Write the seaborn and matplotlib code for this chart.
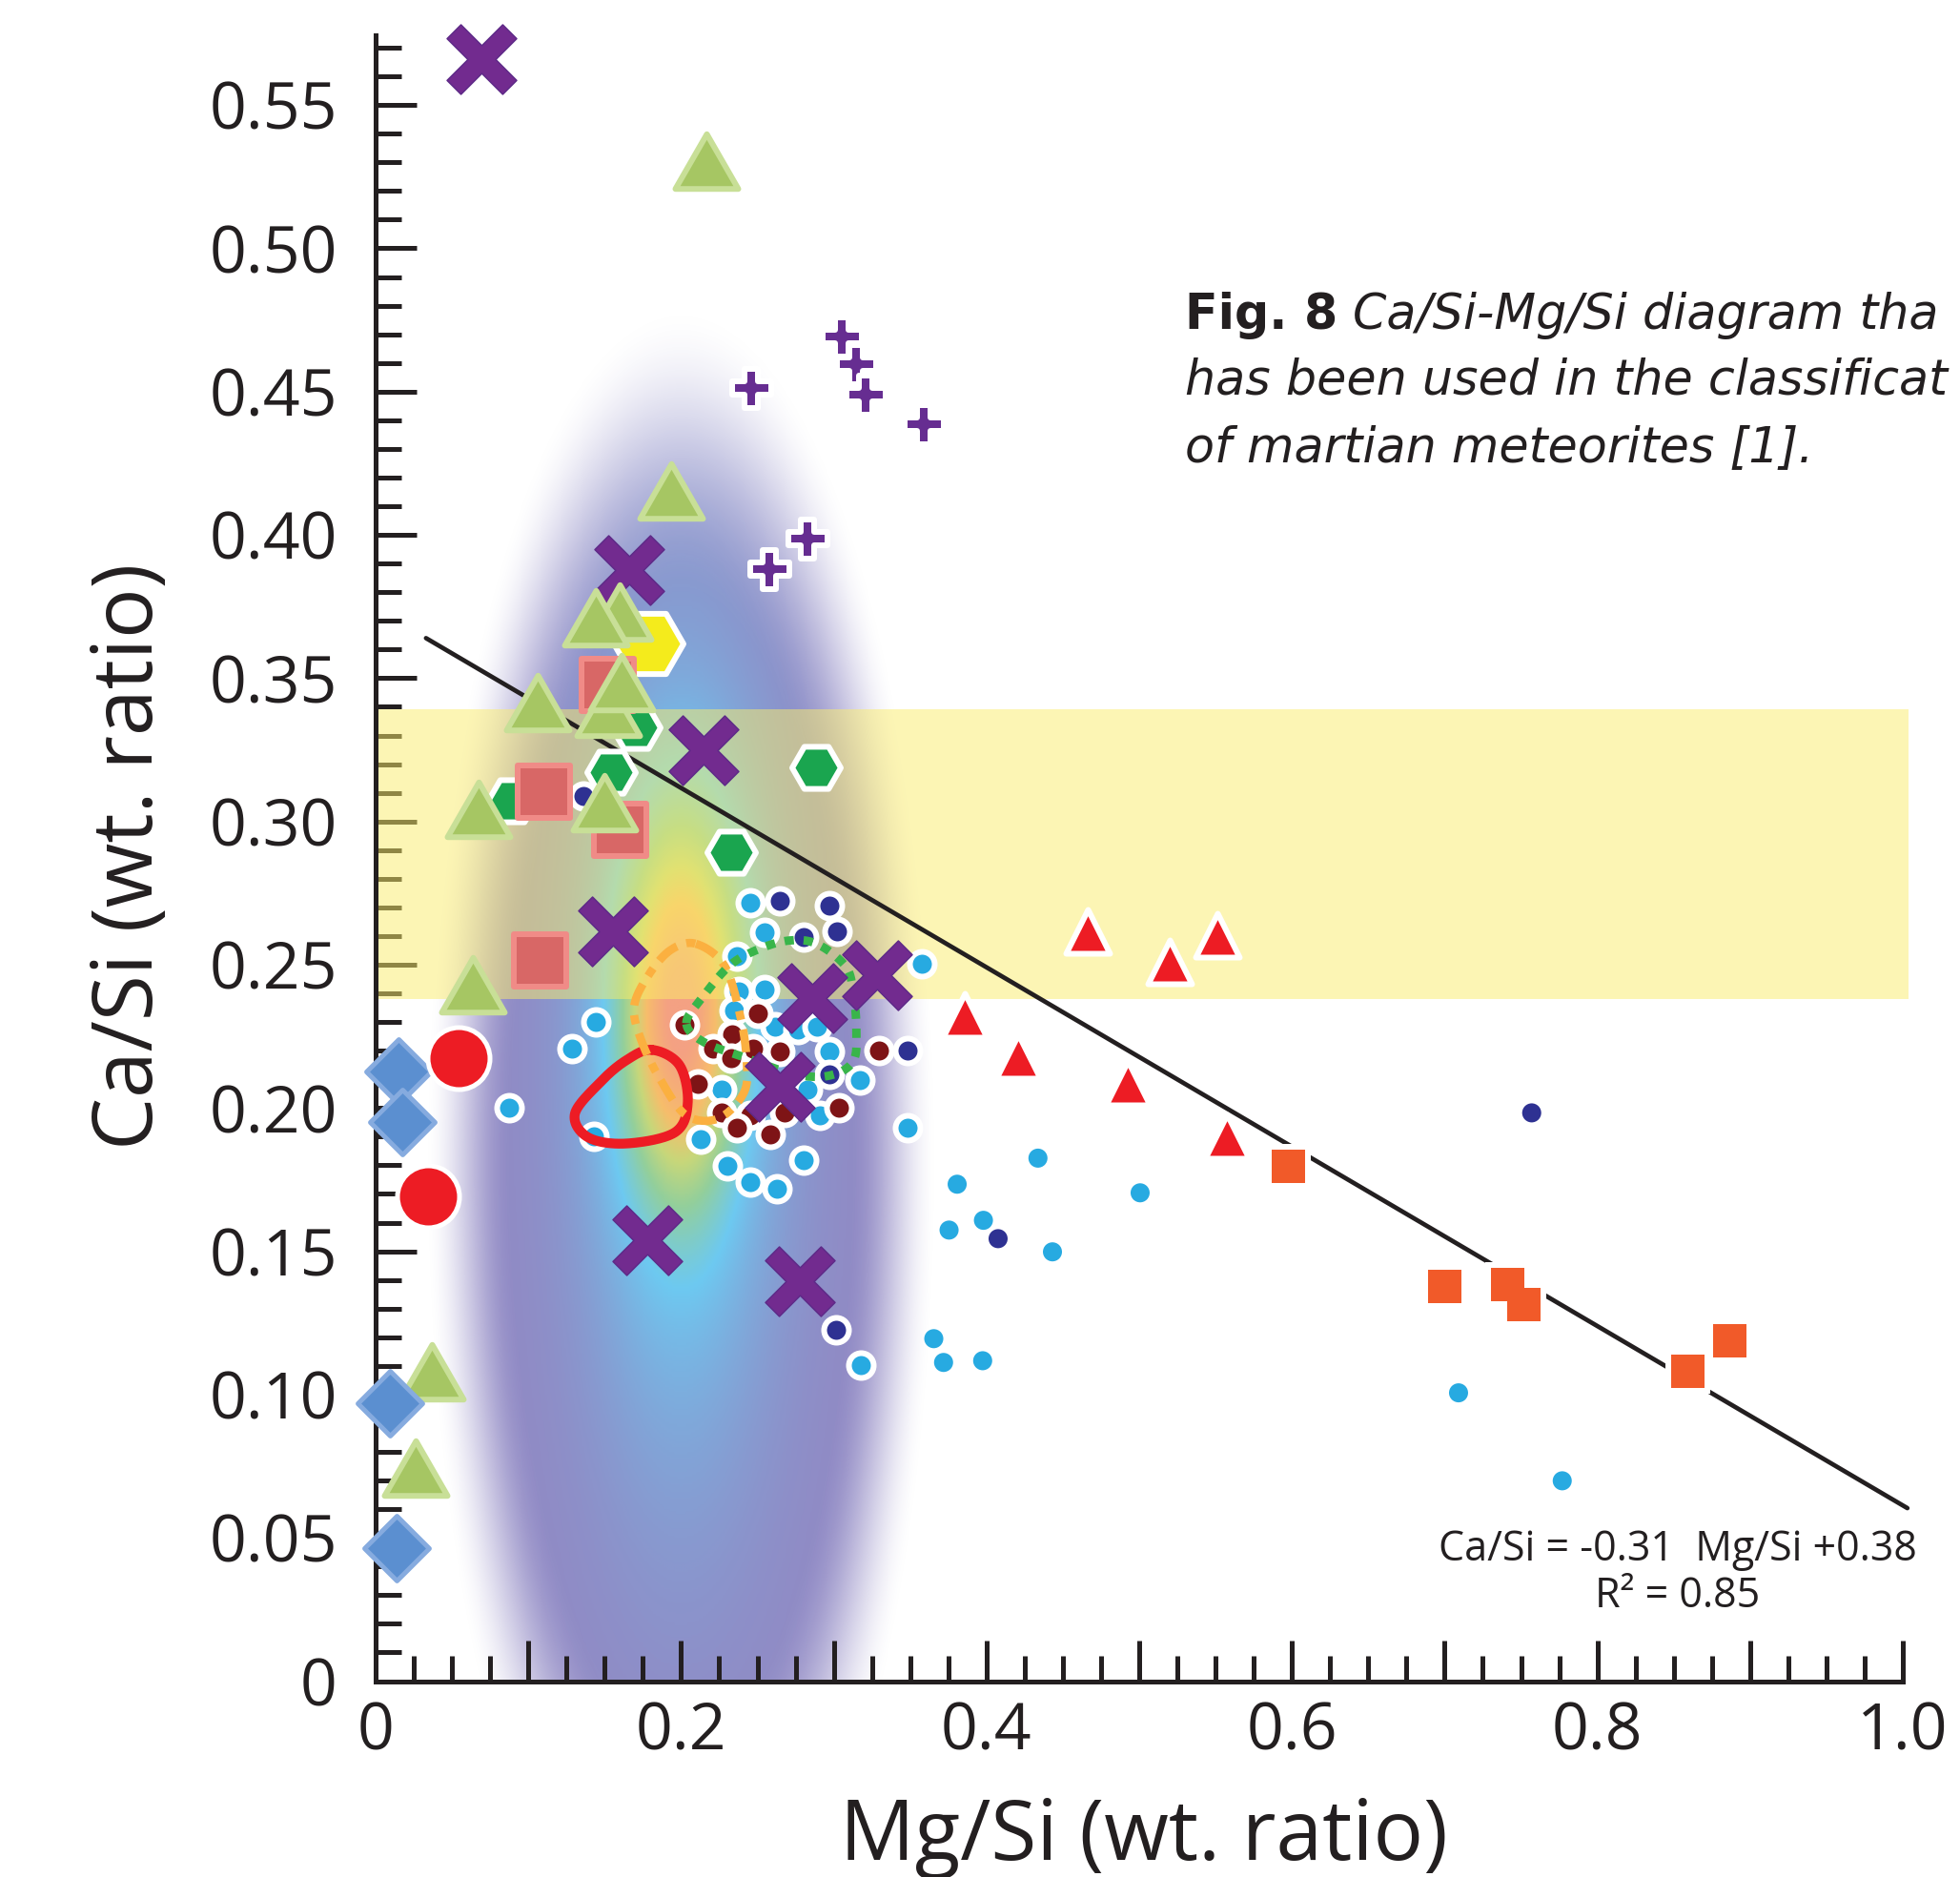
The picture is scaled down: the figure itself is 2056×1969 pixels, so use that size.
import numpy as np
import matplotlib
matplotlib.use("Agg")
import matplotlib.pyplot as plt
import seaborn as sns
from matplotlib.path import Path
from matplotlib.colors import LinearSegmentedColormap
from matplotlib.ticker import FixedLocator, FixedFormatter

# ---- values: (Mg/Si, Ca/Si) ----
cross_x = [0.069, 0.166, 0.2149, 0.1556, 0.2857, 0.3283, 0.2649, 0.1779, 0.2777]
cross_y = [0.566, 0.3876, 0.325, 0.2617, 0.2385, 0.2462, 0.2074, 0.1538, 0.1394]

gtri_x = [0.2165, 0.1936, 0.1598, 0.1442, 0.152, 0.1608, 0.1063, 0.150, 0.0672, 0.0637, 0.0367, 0.0261]
gtri_y = [0.5304, 0.4153, 0.3732, 0.371, 0.3394, 0.3485, 0.3416, 0.3067, 0.3042, 0.243, 0.1081, 0.0743]

psq_x = [0.1519, 0.110, 0.160, 0.1072]
psq_y = [0.3477, 0.3105, 0.2972, 0.2516]

ghex_x = [0.1702, 0.154, 0.089, 0.2326, 0.2885]
ghex_y = [0.3329, 0.3172, 0.3072, 0.2891, 0.3189]

yhex_x = [0.1785]
yhex_y = [0.3621]

dia_x = [0.015, 0.0177, 0.0094, 0.0135]
dia_y = [0.2128, 0.195, 0.097, 0.0465]

rcirc_x = [0.054, 0.0345]
rcirc_y = [0.2173, 0.169]

plus_x = [0.2461, 0.3054, 0.3148, 0.321, 0.3591, 0.2826, 0.258]
plus_y = [0.4512, 0.4691, 0.4597, 0.4489, 0.4386, 0.3987, 0.3882]

rtri_x = [0.4663, 0.5198, 0.551, 0.3855, 0.4209, 0.4925, 0.5574]
rtri_y = [0.2615, 0.2509, 0.2604, 0.2324, 0.218, 0.2087, 0.1902]

osq_x = [0.598, 0.700, 0.752, 0.7414, 0.8592, 0.8868]
osq_y = [0.1795, 0.1378, 0.1315, 0.1385, 0.108, 0.1187]

cyan_x = [0.4337, 0.3808, 0.5006, 0.398, 0.3755, 0.4432, 0.3655, 0.3719, 0.3975, 0.7091, 0.777]
cyan_y = [0.1825, 0.1734, 0.1704, 0.1608, 0.1574, 0.1498, 0.1195, 0.1112, 0.1118, 0.1006, 0.0699]
navy_x = [0.4076, 0.757]
navy_y = [0.1544, 0.1983]

cyan_w_x = [0.2451, 0.2545, 0.2368, 0.3577, 0.2378, 0.2545, 0.2347, 0.2617, 0.2763, 0.2888,
            0.2971, 0.1442, 0.1286, 0.2264, 0.2826, 0.3169, 0.2909, 0.2129, 0.3481, 0.2305,
            0.2451, 0.2628, 0.2805, 0.1431, 0.0874, 0.3179]
cyan_w_y = [0.2717, 0.2612, 0.2529, 0.2503, 0.2407, 0.2412, 0.234, 0.2285, 0.2274, 0.2285,
            0.2196, 0.2302, 0.2207, 0.2063, 0.2063, 0.2096, 0.1974, 0.1891, 0.193, 0.1797,
            0.1742, 0.1719, 0.1819, 0.1902, 0.2002, 0.1104]
navy_w_x = [0.2649, 0.2971, 0.2805, 0.3023, 0.3481, 0.2971, 0.1359, 0.3014]
navy_w_y = [0.2723, 0.2706, 0.2595, 0.2617, 0.2202, 0.2118, 0.3089, 0.1226]
maroon_x = [0.2025, 0.2503, 0.2337, 0.2472, 0.2212, 0.2649, 0.2326, 0.3294, 0.2108, 0.2264,
            0.2451, 0.268, 0.2368, 0.2586, 0.3034]
maroon_y = [0.229, 0.2329, 0.2257, 0.2207, 0.2207, 0.2196, 0.2174, 0.2202, 0.2085, 0.1985,
            0.1974, 0.1985, 0.193, 0.1908, 0.2002]

# outlines of the three fields
red_cx = [0.1808, 0.1989, 0.2044, 0.196, 0.164, 0.139, 0.1305, 0.1473, 0.164]
red_cy = [0.2203, 0.215, 0.2018, 0.1915, 0.1876, 0.1898, 0.198, 0.2091, 0.2166]
org_cx = [0.2097, 0.2285, 0.2389, 0.2430, 0.2410, 0.2243, 0.2035, 0.1868, 0.1744, 0.1692, 0.1785, 0.1931]
org_cy = [0.2573, 0.2496, 0.2318, 0.2163, 0.2052, 0.1963, 0.1974, 0.2096, 0.2230, 0.2351, 0.2462, 0.2551]
grn_cx = [0.2035, 0.2139, 0.2316, 0.2493, 0.2701, 0.2888, 0.3075, 0.3127, 0.3148, 0.3127, 0.2971, 0.2742, 0.2430, 0.2149]
grn_cy = [0.2296, 0.2385, 0.2496, 0.2551, 0.2584, 0.2573, 0.2496, 0.2407, 0.2274, 0.2163, 0.2113, 0.2118, 0.2174, 0.2230]

band_lo, band_hi = 0.238, 0.339
fit_slope, fit_intercept = -0.313, 0.3743
fit_xrange = [0.033, 1.003]

xtick_pos = [0.0, 0.1, 0.2, 0.3, 0.4, 0.5, 0.6, 0.7, 0.8, 0.9, 1.0]
xtick_lab = ['0', '', '0.2', '', '0.4', '', '0.6', '', '0.8', '', '1.0']
ytick_pos = [0.0, 0.05, 0.10, 0.15, 0.20, 0.25, 0.30, 0.35, 0.40, 0.45, 0.50, 0.55]
ytick_lab = ['0', '0.05', '0.10', '0.15', '0.20', '0.25', '0.30', '0.35', '0.40', '0.45', '0.50', '0.55']

K = '#231F20'

sns.set_style("ticks")
plt.rcParams['font.family'] = ['Open Sans', 'DejaVu Sans']

W, H = 2056, 1969
fig = plt.figure(figsize=(W / 100, H / 100), dpi=100)
ax = fig.add_axes([394 / W, 205.5 / H, 1.01 * 1602 / W, 0.58 * 3006 / H])


def pt(px):
    return px * 0.72


# soft density blob behind the points
gx = np.linspace(0.0, 0.42, 500)
gy = np.linspace(-0.15, 0.5, 800)
GX, GY = np.meshgrid(gx, gy)
r = np.sqrt(((GX - 0.2) / 0.168) ** 2 + ((GY - 0.18) / 0.30) ** 2)
a = np.clip((1 - r) / 0.34, 0, 1)
a = a * a * (3 - 2 * a)
core = 0.72 * np.exp(-0.5 * ((GX - 0.2) / 0.028) ** 2 - 0.5 * ((GY - 0.235) / 0.045) ** 2)
stripe = 0.32 * np.exp(-0.5 * ((GX - 0.2) / 0.045) ** 2 - 0.5 * ((GY - 0.215) / 0.10) ** 2)
g = np.clip(core + stripe, 0, 1)
cmap = LinearSegmentedColormap.from_list(
    "blob", [(0.0, '#9189C4'), (0.3, '#6DC9F1'), (0.5, '#93CF9B'),
             (0.65, '#C7D77A'), (0.8, '#F7BD6B'), (1.0, '#F4A183')])
rgba = cmap(g)
rgba[..., 3] = a
ax.imshow(rgba, extent=[gx[0], gx[-1], gy[0], gy[-1]], origin='lower',
          aspect='auto', interpolation='bilinear', zorder=0.5)

# yellow band
ax.fill_between([0, 1.004], band_lo, band_hi, color='#FBED6B', alpha=0.5, lw=0, zorder=0.8)

# regression line
fx = np.array(fit_xrange)
sns.lineplot(x=fx, y=fit_intercept + fit_slope * fx, color=K, linewidth=3.4, zorder=3, ax=ax, legend=False)


def smooth_closed(px, py, n=30):
    P = np.column_stack([px, py])
    m = len(P)
    t = np.linspace(0, 1, n, endpoint=False)[:, None]
    out = []
    for i in range(m):
        p0, p1, p2, p3 = P[(i - 1) % m], P[i], P[(i + 1) % m], P[(i + 2) % m]
        out.append(0.5 * (2 * p1 + (-p0 + p2) * t + (2 * p0 - 5 * p1 + 4 * p2 - p3) * t ** 2
                          + (-p0 + 3 * p1 - 3 * p2 + p3) * t ** 3))
    out.append(P[:1])
    out = np.vstack(out)
    return out[:, 0], out[:, 1]


def pts(x, y, marker, size_px, face, edge='white', lw_px=0.0, z=4):
    sns.scatterplot(x=x, y=y, marker=marker, s=pt(size_px) ** 2, color=face,
                    edgecolor=edge, linewidth=pt(lw_px), zorder=z, clip_on=False,
                    ax=ax, legend=False)


# small circles
pts(cyan_x, cyan_y, 'o', 20, '#27AAE1', edge='none', z=4)
pts(navy_x, navy_y, 'o', 20, '#2E3192', edge='none', z=4)
pts(cyan_w_x, cyan_w_y, 'o', 26, '#27AAE1', lw_px=6, z=4.1)
pts(navy_w_x, navy_w_y, 'o', 26, '#2E3192', lw_px=6, z=4.2)
pts(maroon_x, maroon_y, 'o', 26, '#7E1416', lw_px=6, z=4.3)

# field outlines
sx, sy = smooth_closed(red_cx, red_cy)
ax.plot(sx, sy, color='#ED1C24', lw=7.4, solid_joinstyle='round', zorder=5)
sx, sy = smooth_closed(org_cx, org_cy)
ax.plot(sx, sy, color='#FBB040', lw=6.2, linestyle=(0, (2.8, 1.2, 1.1, 1.2)),
        dash_capstyle='butt', zorder=5)
sx, sy = smooth_closed(grn_cx, grn_cy)
ax.plot(sx, sy, color='#39B54A', lw=6.4, linestyle=(0, (1.1, 1.15)),
        dash_capstyle='butt', zorder=5)

# custom marker shapes
tri_path = Path([(0, 0.87), (-1, -0.87), (1, -0.87), (0, 0.87)],
                [Path.MOVETO, Path.LINETO, Path.LINETO, Path.CLOSEPOLY])
w, L = 0.25, 1.0
plus_v = np.array([(-w, -L), (w, -L), (w, -w), (L, -w), (L, w), (w, w), (w, L), (-w, L),
                   (-w, w), (-L, w), (-L, -w), (-w, -w), (-w, -L)])
c45 = np.sqrt(0.5)
x_v = plus_v @ np.array([[c45, c45], [-c45, c45]])
x_path = Path(x_v, [Path.MOVETO] + [Path.LINETO] * 11 + [Path.CLOSEPOLY])

pts(ghex_x, ghex_y, 'H', 51, '#1AA54F', lw_px=6, z=6)
pts(yhex_x, yhex_y, 'H', 73, '#F4EB1C', lw_px=6, z=6.1)
pts(cross_x, cross_y, x_path, 73, '#722B8F', edge='#5E2A88', lw_px=1.5, z=7)
pts(psq_x, psq_y, 's', 55, '#D86766', edge='#F08B87', lw_px=6, z=8)
pts(gtri_x, gtri_y, tri_path, 66, '#A6C663', edge='#C8DF97', lw_px=6, z=9)
pts(dia_x, dia_y, 'D', 48, '#5B8FD0', edge='#86ABDF', lw_px=5, z=9.5)
pts(rcirc_x, rcirc_y, 'o', 65, '#ED1C24', lw_px=5, z=10)
pts(plus_x, plus_y, 'P', 41, '#662D91', lw_px=6, z=10)
pts(rtri_x, rtri_y, '^', 46, '#ED1C24', lw_px=6, z=10)
pts(osq_x, osq_y, 's', 47, 'white', edge='none', z=10)
pts(osq_x, osq_y, 's', 35, '#F15A29', edge='none', z=10.1)

# axes styling
ax.set_xlim(0, 1.01)
ax.set_ylim(0, 0.58)
ax.set_xlabel('')
ax.set_ylabel('')
ax.xaxis.set_major_locator(FixedLocator(xtick_pos))
ax.xaxis.set_major_formatter(FixedFormatter(xtick_lab))
ax.xaxis.set_minor_locator(FixedLocator(np.arange(0, 1.0001, 0.025)))
ax.yaxis.set_major_locator(FixedLocator(ytick_pos))
ax.yaxis.set_major_formatter(FixedFormatter(ytick_lab))
ax.yaxis.set_minor_locator(FixedLocator(np.arange(0, 0.5701, 0.01)))
ax.tick_params(which='both', left=True, bottom=True, top=False, right=False)
ax.tick_params(which='major', direction='in', length=pt(43), width=pt(5), color=K,
               labelsize=49, labelcolor=K)
ax.tick_params(which='minor', direction='in', length=pt(27), width=pt(5), color=K)
ax.tick_params(axis='y', which='major', pad=29)
ax.tick_params(axis='x', which='major', pad=15)
for s in ['top', 'right']:
    ax.spines[s].set_visible(False)
for s in ['left', 'bottom']:
    ax.spines[s].set_linewidth(pt(5))
    ax.spines[s].set_color(K)
ax.spines['left'].set_bounds(0, 0.5745)
ax.spines['bottom'].set_bounds(0, 1.0)

fig.text(1200 / W, 1 - 1951 / H, 'Mg/Si (wt. ratio)', fontsize=63, color=K,
         ha='center', va='baseline')
fig.text(160 / W, 1 - 898 / H, 'Ca/Si (wt. ratio)', fontsize=63, color=K,
         rotation=90, rotation_mode='anchor', ha='center', va='baseline')

# fit equation
ax.text(0.8527, 0.042, 'Ca/Si = -0.31  Mg/Si +0.38', fontsize=31, color=K,
        ha='center', va='baseline', zorder=12)
ax.text(0.8527, 0.0258, 'R\u00b2 = 0.85', fontsize=31, color=K,
        ha='center', va='baseline', zorder=12)

# caption, as much of it as the source shows before its right edge
cap_x = 1243 / W
cap_size = 36.5
t1 = fig.text(cap_x, 1 - 345 / H, 'Fig. 8', fontsize=cap_size, weight='bold', color=K,
              family='DejaVu Sans')
fig.canvas.draw()
bb = t1.get_window_extent(fig.canvas.get_renderer())
fig.text((bb.x1 + 16) / W, 1 - 345 / H, 'Ca/Si-Mg/Si diagram tha', fontsize=cap_size,
         style='italic', color=K, family='DejaVu Sans')
fig.text(cap_x, 1 - 414 / H, 'has been used in the classificat', fontsize=cap_size,
         style='italic', color=K, family='DejaVu Sans')
fig.text(cap_x, 1 - 484 / H, 'of martian meteorites [1].', fontsize=cap_size,
         style='italic', color=K, family='DejaVu Sans')

fig.savefig('out.png', dpi=100)
